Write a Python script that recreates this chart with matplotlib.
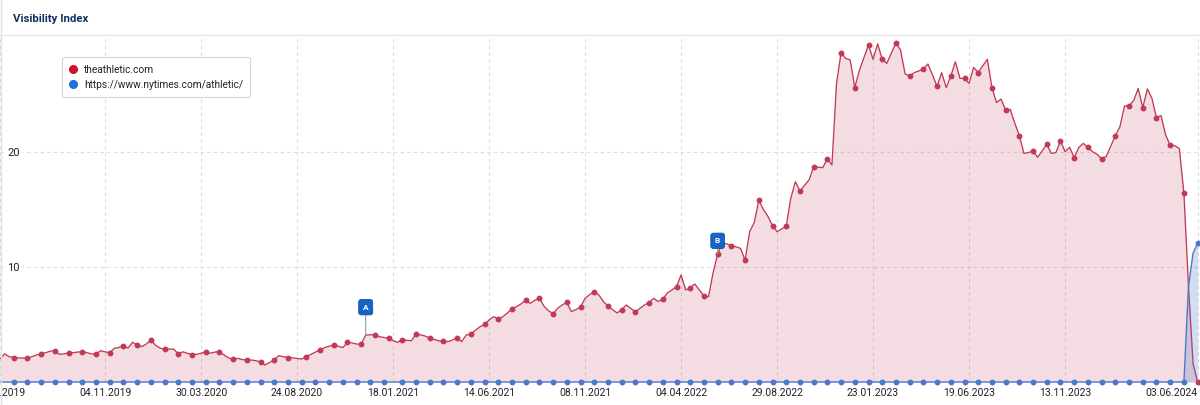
import matplotlib
matplotlib.use('Agg')
import matplotlib.pyplot as plt
import matplotlib.ticker as mticker
from matplotlib.lines import Line2D
import pandas as pd

plt.rcParams['font.family'] = ['Roboto', 'DejaVu Sans']

red_line = '#c13a55'
red_dot = '#d0112b'
blue_line = '#4a78c8'
blue_dot = '#1f6fdc'
navy = '#13305e'
grid_grey = '#dcdcdc'
text_grey = '#222222'

# weekly values, first week 27.05.2019
first_week = '2019-05-27'
athletic_values = [
    2.0, 2.45, 2.2, 2.12, 2.1, 2.08, 2.06, 2.2, 2.35, 2.46, 2.55, 2.68, 2.72, 2.41,
    2.45, 2.52, 2.55, 2.6, 2.64, 2.55, 2.45, 2.41, 2.72, 2.62, 2.55, 2.93, 3.0, 3.16,
    2.95, 3.45, 3.22, 3.07, 3.3, 3.65, 3.2, 2.95, 2.84, 2.87, 2.85, 2.46, 2.62, 2.5,
    2.38, 2.41, 2.5, 2.64, 2.5, 2.6, 2.64, 2.35, 2.1, 1.97, 2.06, 1.95, 1.91, 1.91,
    1.85, 1.74, 1.48, 1.7, 1.94, 2.29, 2.2, 2.12, 2.1, 2.05, 2.0, 2.2, 2.4, 2.6,
    2.78, 2.99, 3.1, 3.22, 3.1, 2.99, 3.45, 3.4, 3.3, 3.28, 4.09, 4.1, 4.12, 3.94,
    3.87, 3.8, 3.6, 3.45, 3.68, 3.62, 3.59, 4.17, 4.1, 4.0, 3.8, 3.7, 3.58, 3.54,
    3.51, 3.65, 3.86, 3.51, 4.09, 4.17, 4.5, 4.8, 5.01, 5.4, 5.68, 5.48, 5.68, 6.0,
    6.38, 6.55, 6.8, 7.1, 6.84, 7.1, 7.28, 6.6, 6.2, 5.94, 6.41, 6.7, 6.93, 6.12,
    6.3, 6.52, 7.28, 7.6, 7.86, 7.57, 7.0, 6.6, 6.3, 6.0, 6.3, 6.7, 6.4, 6.1,
    6.4, 6.7, 6.9, 7.27, 7.0, 7.19, 7.75, 8.0, 8.29, 9.3, 8.0, 8.2, 8.52, 8.0,
    7.48, 7.42, 9.5, 11.13, 12.11, 12.0, 11.86, 11.75, 11.62, 10.6, 13.07, 13.86, 15.8, 15.0,
    14.4, 13.59, 13.07, 13.3, 13.54, 16.0, 17.42, 16.6, 17.1, 17.57, 18.72, 18.68, 18.64, 19.42,
    18.87, 25.97, 28.64, 28.14, 28.0, 25.6, 27.1, 28.2, 29.3, 28.06, 29.4, 28.06, 27.7, 28.6,
    29.5, 28.87, 26.8, 26.6, 26.9, 27.05, 27.2, 27.65, 26.7, 25.7, 26.9, 25.6, 26.6, 27.85,
    26.4, 26.4, 25.97, 27.36, 26.9, 27.5, 28.06, 25.6, 24.3, 24.6, 23.65, 23.7, 22.5, 21.42,
    19.88, 19.95, 20.09, 19.54, 20.1, 20.67, 19.88, 19.95, 20.96, 20.03, 20.4, 19.51, 20.4, 20.75,
    20.4, 20.03, 19.8, 19.42, 19.6, 20.5, 21.42, 22.2, 24.0, 24.03, 24.46, 25.53, 23.86, 25.48,
    24.67, 22.99, 23.16, 21.48, 20.58, 20.55, 20.3, 16.4, 8.29, 1.6, 0.0,
]
nytimes_values = [0.0] * 260 + [8.3, 11.2, 12.06]
series_labels = ['theathletic.com', 'https://www.nytimes.com/athletic/']

tick_labels = ['27.05.2019', '04.11.2019', '30.03.2020', '24.08.2020', '18.01.2021',
               '14.06.2021', '08.11.2021', '04.04.2022', '29.08.2022', '23.01.2023',
               '19.06.2023', '13.11.2023', '03.06.2024']
y_ticks = [10, 20]

flag_labels = ['A', 'B']
flag_dates = ['07.12.2020', '30.05.2022']

weeks = pd.date_range(first_week, periods=len(athletic_values), freq='7D')
tick_dates = pd.to_datetime(tick_labels, format='%d.%m.%Y')

# markers are shown on every third week (with a phase jump)
red_marks = [w + 2 for w in list(range(1, 62, 3)) + list(range(65, 261, 3))]
blue_marks = [w + 2 for w in list(range(1, 83, 3)) + list(range(86, 261, 3))]

fig = plt.figure(figsize=(12, 4.05), dpi=100)
ax = fig.add_axes([0, 23 / 405, 1, 345 / 405])

ax.fill_between(weeks, athletic_values, 0, color=red_line, alpha=0.17, lw=0, zorder=2)
ax.plot(weeks, athletic_values, color=red_line, lw=0.95, marker='o', ms=3.2,
        markevery=red_marks, clip_on=False, zorder=3)
ax.fill_between(weeks, nytimes_values, 0, color=blue_line, alpha=0.25, lw=0, zorder=4)
ax.plot(weeks, nytimes_values, color=blue_line, lw=1.0, marker='o', ms=3.2,
        markevery=blue_marks, clip_on=False, zorder=5)

# event flags
series = pd.Series(athletic_values, index=weeks)
for label, d, off in zip(flag_labels, flag_dates, [20, 9.5]):
    d = pd.to_datetime(d, format='%d.%m.%Y')
    ax.annotate(label, xy=(d, series[d]), xytext=(0, off), textcoords='offset points',
                ha='center', va='center', color='white', fontsize=6, fontweight='bold',
                bbox=dict(boxstyle='round,pad=0.5,rounding_size=0.3', fc='#1565c8', ec='#0d4fa8', lw=0.6),
                arrowprops=dict(arrowstyle='-', color='#9a9a9a', lw=0.8, shrinkA=0, shrinkB=0),
                zorder=6)

ax.set_xlim(pd.Timestamp('2019-05-28'), pd.Timestamp('2024-06-06 15:00'))
ax.set_ylim(0, 30)
ax.set_xticks(tick_dates)
ax.set_xticklabels(tick_labels)
ax.set_yticks(y_ticks)
ax.yaxis.set_major_formatter(mticker.FormatStrFormatter('%d'))
for s in ax.spines.values():
    s.set_visible(False)
ax.tick_params(axis='x', length=0, pad=4.5, labelsize=7.5, labelcolor=text_grey)
ax.tick_params(axis='y', length=0, pad=-14.4, labelsize=8, labelcolor=text_grey)
ax.xaxis.get_ticklabels()[-1].set_horizontalalignment('right')
for lbl in ax.get_yticklabels():
    lbl.set_bbox(dict(facecolor='white', edgecolor='none', pad=2))
ax.grid(True, ls=(0, (3, 3)), color=grid_grey, lw=0.8, zorder=1)
ax.set_axisbelow(True)

handles = [Line2D([], [], ls='none', marker='o', ms=5.5, color=c) for c in (red_dot, blue_dot)]
leg = ax.legend(handles, series_labels, loc='upper left',
                bbox_to_anchor=(62 / 1200, 1 - 20 / 345), fontsize=7.3, frameon=True,
                fancybox=True, edgecolor='#d6d6d6', framealpha=1, handlelength=0.7,
                handletextpad=0.7, labelspacing=0.5, borderpad=0.75, borderaxespad=0)
leg.get_frame().set_linewidth(0.8)
for t in leg.get_texts():
    t.set_color(text_grey)

fig.text(13 / 1200, 1 - 21.7 / 405, 'Visibility Index', fontsize=8.2, fontweight='bold',
         color=navy, va='baseline')
fig.add_artist(Line2D([0, 1], [1 - 35 / 405] * 2, color='#e6e6e6', lw=1, transform=fig.transFigure))
fig.add_artist(Line2D([0.0005, 0.0005], [0, 1], color='#e3e3e3', lw=1, transform=fig.transFigure))

fig.savefig('out.png', dpi=100)
